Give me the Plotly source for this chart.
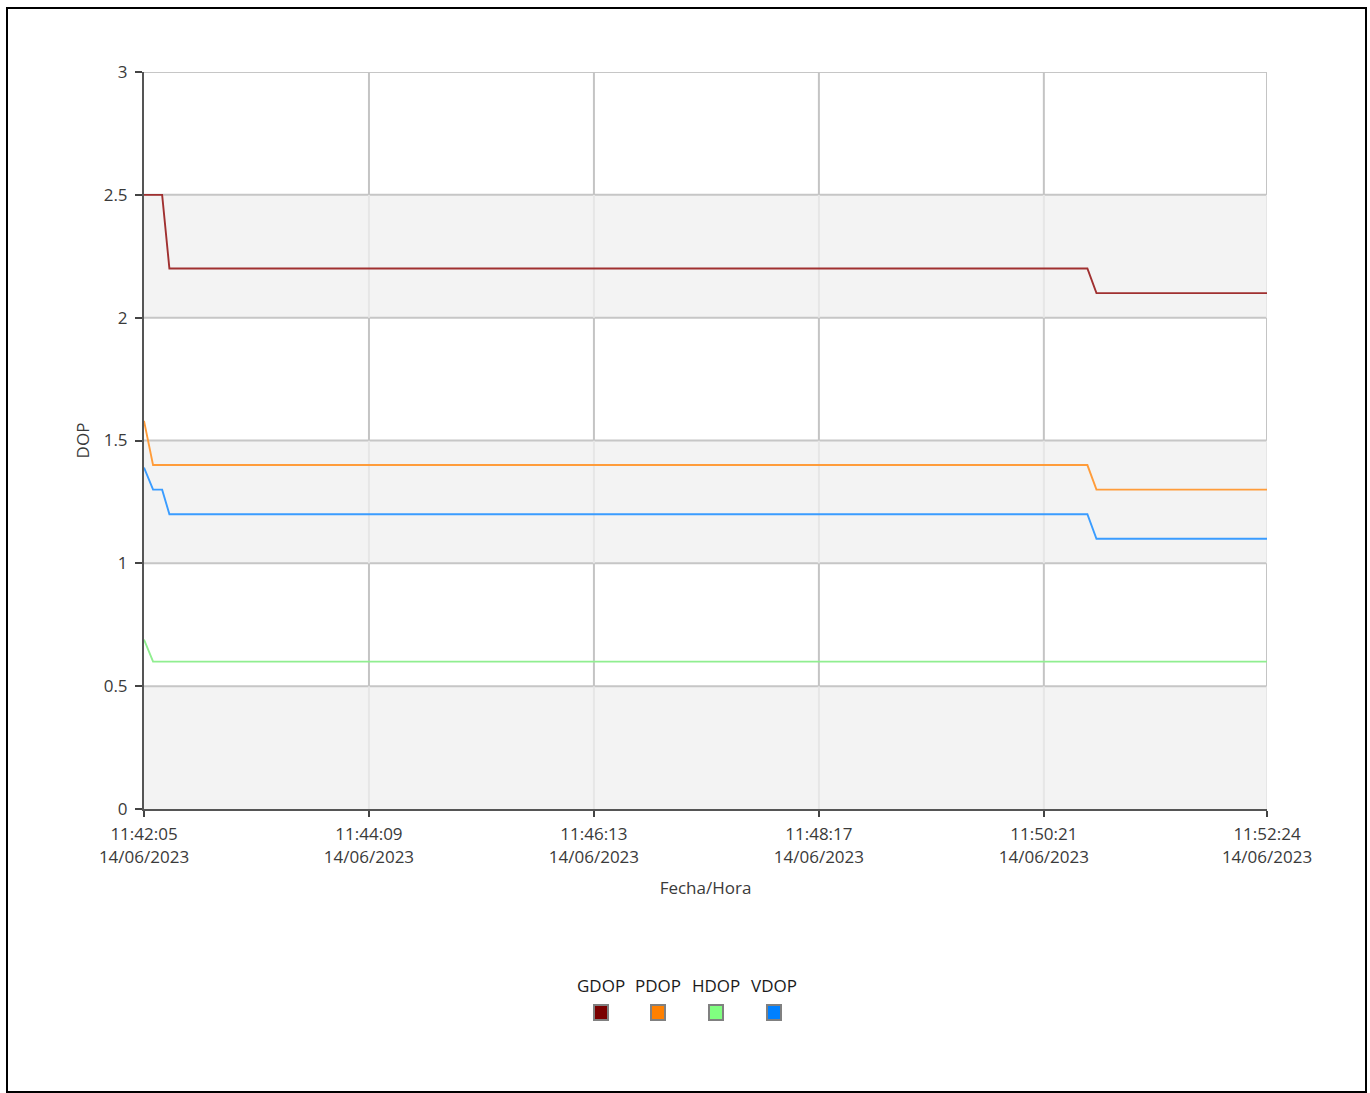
import plotly.graph_objects as go

times = ["2023-06-14 11:42:05", "2023-06-14 11:42:10", "2023-06-14 11:42:15",
         "2023-06-14 11:42:19", "2023-06-14 11:50:45", "2023-06-14 11:50:50",
         "2023-06-14 11:52:24"]
gdop = [2.5, 2.5, 2.5, 2.2, 2.2, 2.1, 2.1]
pdop = [1.58, 1.4, 1.4, 1.4, 1.4, 1.3, 1.3]
hdop = [0.69, 0.6, 0.6, 0.6, 0.6, 0.6, 0.6]
vdop = [1.39, 1.3, 1.3, 1.2, 1.2, 1.1, 1.1]

tick_times = ["2023-06-14 11:42:05", "2023-06-14 11:44:09", "2023-06-14 11:46:13",
              "2023-06-14 11:48:17", "2023-06-14 11:50:21", "2023-06-14 11:52:24"]
tick_labels = ["11:42:05<br>14/06/2023", "11:44:09<br>14/06/2023", "11:46:13<br>14/06/2023",
               "11:48:17<br>14/06/2023", "11:50:21<br>14/06/2023", "11:52:24<br>14/06/2023"]
y_ticks = [0, 0.5, 1, 1.5, 2, 2.5, 3]
y_labels = ["0", "0.5", "1", "1.5", "2", "2.5", "3"]

series_names = ["GDOP", "PDOP", "HDOP", "VDOP"]
series_values = [gdop, pdop, hdop, vdop]
line_colors = ["#a03030", "#ff9c3a", "#90ee90", "#3a9cff"]
legend_colors = ["#7a0000", "#ff8000", "#80ff80", "#0080ff"]

FONT = "Open Sans"
TXT = "#3a3a3a"
W, H = 1370, 1093
L, R, T, B = 144, 103, 72, 284
pw, ph = W - L - R, H - T - B

def px2x(px):
    return (px - L) / pw

def py2y(py):
    return (H - B - py) / ph

fig = go.Figure()
for name, vals, col in zip(series_names, series_values, line_colors):
    fig.add_trace(go.Scatter(x=times, y=vals, mode="lines", name=name,
                             line=dict(color=col, width=1.9), showlegend=False))

shapes = []
# bands: shaded for [0,.5],[1,1.5],[2,2.5]
for i in range(len(y_ticks) - 1):
    lo, hi = y_ticks[i], y_ticks[i + 1]
    shaded = (i % 2 == 0)
    if shaded:
        shapes.append(dict(type="rect", xref="paper", yref="y", x0=0, x1=1, y0=lo, y1=hi,
                           fillcolor="#f3f3f3", line=dict(width=0), layer="below"))
    # vertical grid segments within this band
    for tv in tick_times[1:]:
        shapes.append(dict(type="line", xref="x", yref="y", x0=tv, x1=tv, y0=lo, y1=hi,
                           line=dict(color="#e6e6e6" if shaded else "#c4c4c4", width=2),
                           layer="below"))
for yv in y_ticks[1:]:
    shapes.append(dict(type="line", xref="paper", yref="y", x0=0, x1=1, y0=yv, y1=yv,
                       line=dict(color="#c6c6c6", width=2), layer="below"))
shapes.append(dict(type="rect", xref="paper", yref="paper",
                   x0=px2x(7), x1=px2x(1366), y0=py2y(1092), y1=py2y(8),
                   line=dict(color="black", width=2), fillcolor="rgba(0,0,0,0)"))

annotations = []
leg_x = [601, 658, 716, 774]
for name, col, cx in zip(series_names, legend_colors, leg_x):
    annotations.append(dict(text=name, xref="paper", yref="paper", x=px2x(cx), y=py2y(986),
                            showarrow=False, xanchor="center", yanchor="middle",
                            font=dict(family=FONT, size=17, color="#1a1a1a")))
    shapes.append(dict(type="rect", xref="paper", yref="paper",
                       x0=px2x(cx - 7), x1=px2x(cx + 7), y0=py2y(1020), y1=py2y(1005),
                       fillcolor=col, line=dict(color="#808080", width=2)))

fig.update_layout(
    width=W, height=H, autosize=False,
    margin=dict(l=L, r=R, t=T, b=B),
    paper_bgcolor="white", plot_bgcolor="white",
    font=dict(family=FONT, size=17, color=TXT),
    shapes=shapes, annotations=annotations,
    xaxis=dict(type="date", range=[times[0], times[-1]], tickvals=tick_times, ticktext=tick_labels,
               showgrid=False,
               ticks="outside", ticklen=6, tickcolor="#444444", tickwidth=2,
               showline=True, linecolor="#555555", linewidth=2, zeroline=False,
               ticklabelstandoff=3,
               tickfont=dict(family=FONT, size=17, color=TXT),
               title=dict(text="Fecha/Hora", font=dict(family=FONT, size=17, color=TXT), standoff=16)),
    yaxis=dict(range=[0, 3], tickvals=y_ticks, ticktext=y_labels, showgrid=False,
               ticks="outside", ticklen=7, tickcolor="#444444", tickwidth=2,
               showline=True, linecolor="#555555", linewidth=2, zeroline=False,
               ticklabelstandoff=4,
               tickfont=dict(family=FONT, size=17, color=TXT),
               title=dict(text="DOP", font=dict(family=FONT, size=17, color=TXT), standoff=10)),
)

fig.write_html("out.html", config={"displayModeBar": False},
               post_script="document.body.style.margin='0';document.body.style.overflow='hidden';")
